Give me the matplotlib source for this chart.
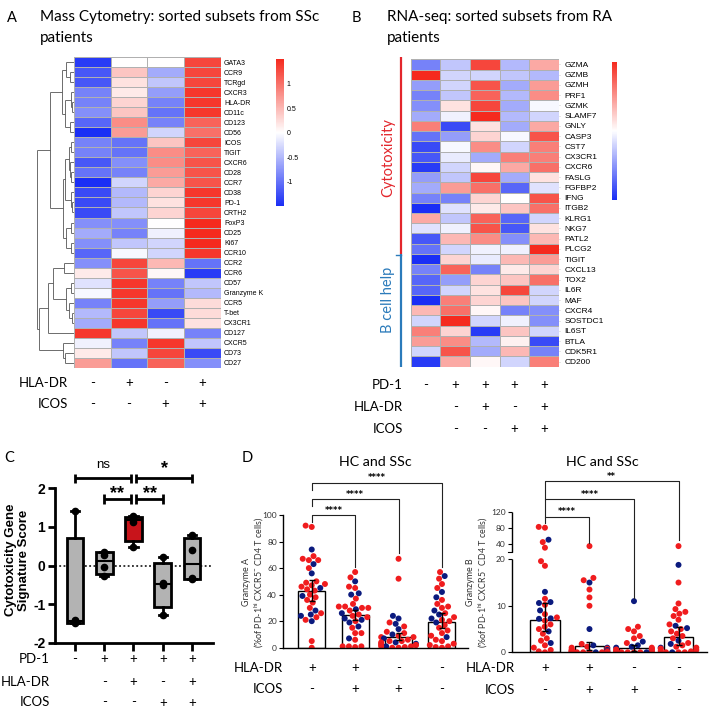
import numpy as np
import pandas as pd
import matplotlib
matplotlib.use("Agg")
import matplotlib.pyplot as plt
import matplotlib.transforms as mtrans
from matplotlib.colors import LinearSegmentedColormap
import seaborn as sns

plt.rcParams['font.family'] = ['Lato', 'DejaVu Sans']
plt.rcParams['mathtext.fontset'] = 'custom'
plt.rcParams['mathtext.rm'] = 'Lato'
plt.rcParams['mathtext.it'] = 'Lato:italic'

# ---------------- DATA ----------------
# Panel A: mass cytometry heatmap (columns: HLA-DR/ICOS -/-, +/-, -/+, +/+)
a_rows = ["GATA3", "CCR9", "TCRgd", "CXCR3", "HLA-DR", "CD11c", "CD123", "CD56",
          "ICOS", "TIGIT", "CXCR6", "CD28", "CCR7", "CD38", "PD-1", "CRTH2",
          "FoxP3", "CD25", "Ki67", "CCR10", "CCR2", "CCR6", "CD57", "Granzyme K",
          "CCR5", "T-bet", "CX3CR1", "CD127", "CXCR5", "CD73", "CD27"]
a_vals = [
    [-1.4, 0.0, 0.0, 1.3], [-1.2, 0.4, -0.6, 1.3], [-1.2, 0.2, -0.4, 1.3],
    [-0.9, 0.15, -0.7, 1.4], [-0.9, 0.3, -0.9, 1.4], [-0.8, 0.4, -1.0, 1.4],
    [-1.1, 0.8, -0.9, 1.1], [-1.5, 0.7, -0.3, 1.0], [-0.9, -1.0, 0.4, 1.3],
    [-0.9, -1.0, 0.8, 1.1], [-1.2, -0.8, 0.8, 1.2], [-1.0, -0.9, 0.7, 1.2],
    [-1.5, -0.3, 0.6, 1.2], [-1.3, -0.5, 0.3, 1.4], [-1.3, -0.5, 0.2, 1.4],
    [-1.3, -0.4, 0.3, 1.3], [-0.8, -0.8, 0.0, 1.5], [-0.6, -0.9, -0.1, 1.5],
    [-0.8, -0.4, -0.3, 1.5], [-1.1, -0.05, -0.3, 1.4], [-0.8, 1.3, 0.5, -1.0],
    [0.15, 1.2, 0.05, -1.4], [-0.2, 1.4, -0.9, -0.4], [-0.05, 1.4, -1.0, -0.5],
    [-0.9, 1.4, -0.7, 0.25], [-0.5, 1.3, -1.3, 0.25], [-0.6, 1.4, -1.0, 0.2],
    [1.4, -0.4, -0.1, -0.9], [-0.1, -0.9, 1.4, -0.4], [0.15, -0.4, 1.3, -1.3],
    [0.7, -1.0, 1.1, -0.8]]
a_hla = ["-", "+", "-", "+"]
a_icos = ["-", "-", "+", "+"]
a_cbar_ticks = [-1, -0.5, 0, 0.5, 1]
# row dendrogram: (merge height, left, right), leaves are row indices
a_tree = (37,
          (24,
           (12, (8, 0, (4, 1, 2)), (9, (3, 3, (2, 4, 5)), (4, 6, 7))),
           (11, (9, (5, (3, 8, 9), (4, 10, (3, 11, 12))), (3, 13, (2, 14, 15))),
            (8, (3, 16, 17), (3, 18, 19)))),
          (35,
           (26, (21, (10, 20, 21), (8, (3, 22, 23), (5, 24, (2, 25, 26)))), 27),
           (11, 28, (9, 29, 30))))

# Panel B: RNA-seq heatmap
b_rows = ["GZMA", "GZMB", "GZMH", "PRF1", "GZMK", "SLAMF7", "GNLY", "CASP3", "CST7",
          "CX3CR1", "CXCR6", "FASLG", "FGFBP2", "IFNG", "ITGB2", "KLRG1", "NKG7",
          "PATL2", "PLCG2", "TIGIT", "CXCL13", "TOX2", "IL6R", "MAF", "CXCR4",
          "SOSTDC1", "IL6ST", "BTLA", "CDK5R1", "CD200"]
b_vals = [
    [-0.9, -0.4, 1.3, -0.5, 0.6], [1.5, -0.3, -0.3, -0.4, -0.5],
    [-0.7, -0.3, 1.2, -0.6, 0.7], [-0.9, -0.4, 1.1, -0.5, 0.8],
    [-0.8, 0.2, 1.3, -0.6, -0.05], [-0.6, -0.1, 1.5, -0.5, -0.3],
    [0.9, -1.3, 0.2, -0.6, 0.6], [-1.0, -0.7, 0.3, -0.05, 1.2],
    [-1.3, -0.05, 0.8, -0.3, 0.9], [-1.2, -0.15, -0.6, 0.9, 0.9],
    [-1.4, -0.3, 0.05, 0.6, 1.0], [-0.7, -0.4, 1.3, -0.6, 0.2],
    [-0.6, 0.7, 1.0, -1.1, -0.2], [-0.9, -0.9, 0.3, 0.0, 1.2],
    [-1.5, -0.2, 0.15, 0.4, 1.0], [0.6, -0.4, 1.1, -1.1, -0.3],
    [-0.2, -0.1, 1.2, -1.2, 0.2], [-1.2, 0.5, 0.8, -0.8, 0.5],
    [-1.0, -0.3, -0.1, -0.1, 1.5], [-1.5, 0.3, -0.15, 0.5, 0.7],
    [-0.9, 1.1, -0.9, 0.15, 0.3], [-1.1, -0.7, 0.3, 0.4, 1.0],
    [-1.1, -0.3, 0.2, 1.3, -0.3], [-1.5, 0.9, 0.3, 0.4, -0.3],
    [0.5, 1.0, 0.05, -0.9, -0.8], [-0.3, 1.5, -0.3, -0.1, -0.8],
    [0.9, 0.3, -1.4, 0.4, -0.3], [0.7, 0.8, -0.5, 0.1, -1.3],
    [-0.3, 1.2, -0.6, 0.5, -0.9], [-1.4, 0.6, 0.05, -0.3, 0.9]]
b_cyto_rows = 19          # GZMA .. PLCG2
b_pd1 = ["-", "+", "+", "+", "+"]
b_hla = ["", "-", "+", "-", "+"]
b_icos = ["", "-", "-", "+", "+"]

# Panel C: cytotoxicity signature score per subset
c_points = [[1.42, -1.40, -1.45, -1.50],
            [0.36, 0.28, -0.03, -0.27],
            [1.27, 1.25, 1.12, 0.48],
            [0.22, -0.45, -0.50, -1.28],
            [0.80, 0.40, -0.32, -0.36]]
c_pd1 = ["-", "+", "+", "+", "+"]
c_hla = ["", "-", "+", "-", "+"]
c_icos = ["", "-", "-", "+", "+"]
c_fill = ["#b3b3b3", "#b3b3b3", "#c8141b", "#b3b3b3", "#b3b3b3"]

# Panel D: Granzyme A (value, cohort: r = SSc, n = HC)
gza = [
    ([92, 91, 74, 69, 67, 66, 66, 63, 60, 56, 50, 49, 48, 47, 46, 45, 44, 43, 40, 39,
      38, 36, 34, 30, 28, 26, 25, 24, 23, 21, 20, 5, 0],
     "rrnrrrrnrnrrrrrnrrrnrrrrnrnnrrnrr"),
    ([57, 53, 50, 46, 45, 41, 40, 37, 33, 31, 31, 30, 30, 29, 28, 26, 25, 24, 23, 22,
      21, 20, 19, 16, 15, 11, 11, 7, 6, 1, 1, 1, 0.5],
     "rrnrrnnrrrrrrnrnrrrnnrnnrrrnrrrrr"),
    ([67, 52, 24, 22, 19, 18, 16, 14, 12, 11, 10, 9, 8, 8, 7, 6, 5, 5, 4, 4, 3, 3, 2,
      2, 2, 1, 1, 1, 0.5, 0, 0],
     "rrnnrnrnrrnrrrnrrrnrrnrrrnrrrrr"),
    ([57, 54, 52, 48, 45, 42, 38, 36, 33, 31, 30, 28, 26, 25, 23, 22, 21, 20, 19, 17,
      15, 13, 11, 9, 8, 6, 5, 3, 2, 1, 0.5, 0],
     "rnrrrnnrrrrnrnrnrrnrrrrrnrrrrrrr"),
]
gza_bar = [42.5, 24.5, 8.3, 19.0]
gza_lo = [35, 21, 5.5, 15]
gza_hi = [51, 28.5, 11.3, 26]
gzb = [
    ([82, 80, 50, 44, 30, 19.6, 18.6, 13, 11.5, 10.8, 10.6, 10.2, 9, 8.2, 7.5, 7.3, 7.2,
      6.8, 6, 5.5, 5, 4.5, 4, 3, 2.5, 2, 1.5, 1, 0.5, 0.2, 0],
     "rrnrrrrnrnnrnrrnnrrrrnrrrnrrrrr"),
    ([34, 16, 15.5, 15, 13.5, 11.8, 10, 5, 1.8, 1.5, 1.2, 1, 1, 0.8, 0.6, 0.5, 0.4, 0.3,
      0.3, 0.2, 0.2, 0.1, 0, 0, 0, 0, 0, 0, 0, 0],
     "rrrnrrrnrnrrnrrnrrrrnrrrrrnrrr"),
    ([11, 5.5, 5, 4.5, 3.5, 3, 2.3, 2, 1.5, 1.2, 1, 1, 0.8, 0.6, 0.5, 0.4, 0.3, 0.2, 0.1,
      0, 0, 0, 0, 0, 0],
     "nrrrrrnrnnrnrrrrrrrrrrnrr"),
    ([34, 18.8, 15, 10.5, 9.3, 8.7, 8.3, 7.8, 7, 6, 5.7, 5.2, 5, 4.5, 4, 3.5, 3, 2.5, 2,
      1.8, 1.5, 1.2, 1, 1, 0.8, 0.5, 0.3, 0.2, 0, 0, 0, 0],
     "rnrrrrrrrrnnrrrrrnrnrrrnrrrrrrnr"),
]
gzb_bar = [7.0, 1.3, 0.9, 3.2]
gzb_lo = [4.5, 0.5, 0.3, 1.6]
gzb_hi = [10.5, 2.3, 1.6, 5.4]
d_hla = ["+", "+", "-", "-"]
d_icos = ["-", "+", "+", "-"]
cohort_names = {"r": "SSc", "n": "HC"}

# ---------------- FIGURE ----------------
W, H = 709, 707
fig = plt.figure(figsize=(W / 100, H / 100), dpi=100)


def axpx(l, t, r, b):
    return fig.add_axes([l / W, 1 - b / H, (r - l) / W, (b - t) / H])


def ftxt(x, y, s, **kw):
    return fig.text(x / W, 1 - y / H, s, **kw)


def sign_row(ax, xs, signs, ypx, label, label_x, fs=9.5):
    tr = mtrans.blended_transform_factory(ax.transData, fig.transFigure)
    for x, s in zip(xs, signs):
        ax.text(x, 1 - ypx / H, s, transform=tr, ha="center", va="center",
                fontsize=fs, clip_on=False)
    ftxt(label_x, ypx, label, ha="right", va="center", fontsize=fs)


cmap = LinearSegmentedColormap.from_list("bwr_ph", ["#1a2ef5", "#ffffff", "#f52a1e"])
hm_font = ["Liberation Sans", "DejaVu Sans"]

# ---- Panel A ----
ftxt(7, 18, "A", fontsize=10.5, va="center")
ftxt(40, 17, "Mass Cytometry: sorted subsets from SSc", fontsize=11, va="center")
ftxt(40, 38, "patients", fontsize=11, va="center")

axA = axpx(74, 57.3, 220.7, 367.7)
A = np.array(a_vals)
meshA = axA.pcolormesh(A, cmap=cmap, vmin=-1.5, vmax=1.5, edgecolors="#b0b0b0", linewidth=0.4)
axA.set_xlim(0, A.shape[1])
axA.set_ylim(A.shape[0], 0)
axA.set_xticks([])
axA.set_yticks(np.arange(len(a_rows)) + 0.5)
axA.set_yticklabels(a_rows, fontsize=5, family=hm_font)
axA.yaxis.tick_right()
axA.tick_params(axis="y", length=0, pad=2.4)
for s in axA.spines.values():
    s.set_visible(False)
sign_row(axA, np.arange(4) + 0.5, a_hla, 383, "HLA-DR", 68)
sign_row(axA, np.arange(4) + 0.5, a_icos, 404, "ICOS", 68)

caxA = axpx(276, 59, 284, 206)
cbA = fig.colorbar(meshA, cax=caxA, ticks=a_cbar_ticks)
cbA.outline.set_visible(False)
cbA.ax.set_yticklabels([f"{t:g}" for t in a_cbar_ticks], fontsize=5, family=hm_font)
cbA.ax.tick_params(length=0, pad=2)

axDen = axpx(30, 57.3, 74, 367.7)
axDen.set_xlim(44, 0)
axDen.set_ylim(A.shape[0], 0)
axDen.axis("off")


def draw_tree(ax, node):
    if isinstance(node, int):
        return node + 0.5, 0
    h, l, r = node
    yl, hl = draw_tree(ax, l)
    yr, hr = draw_tree(ax, r)
    kw = dict(color="#555555", lw=0.6, solid_capstyle="butt")
    ax.plot([hl, h], [yl, yl], **kw)
    ax.plot([hr, h], [yr, yr], **kw)
    ax.plot([h, h], [yl, yr], **kw)
    return (yl + yr) / 2, h


draw_tree(axDen, a_tree)

# ---- Panel B ----
ftxt(352, 18, "B", fontsize=10.5, va="center")
ftxt(387, 17, "RNA-seq: sorted subsets from RA", fontsize=11, va="center")
ftxt(387, 38, "patients", fontsize=11, va="center")

axB = axpx(410.7, 59.3, 559, 366.7)
B = np.array(b_vals)
meshB = axB.pcolormesh(B, cmap=cmap, vmin=-1.5, vmax=1.5, edgecolors="#b0b0b0", linewidth=0.4)
axB.set_xlim(0, B.shape[1])
axB.set_ylim(B.shape[0], 0)
axB.set_xticks([])
axB.set_yticks(np.arange(len(b_rows)) + 0.5)
axB.set_yticklabels(b_rows, fontsize=6, family=hm_font)
axB.yaxis.tick_right()
axB.tick_params(axis="y", length=1, width=0.4, color="#aaaaaa", pad=3)
for s in axB.spines.values():
    s.set_visible(False)
trB = mtrans.blended_transform_factory(axB.transAxes, axB.transData)
axB.plot([-0.0674, -0.0674], [-0.25, b_cyto_rows], color="#e3262c", lw=1.6,
         transform=trB, clip_on=False, solid_capstyle="butt")
axB.plot([-0.0674, -0.0674], [b_cyto_rows, len(b_rows)], color="#2b7bbb", lw=1.6,
         transform=trB, clip_on=False, solid_capstyle="butt")
axB.plot([-0.0674, -0.1], [b_cyto_rows + 0.1, b_cyto_rows + 0.1], color="#2b7bbb", lw=1.0,
         transform=trB, clip_on=False)
ftxt(388, 158, "Cytotoxicity", rotation=90, ha="center", va="center", fontsize=10.5,
     color="#e3262c")
ftxt(388, 300, "B cell help", rotation=90, ha="center", va="center", fontsize=10.5,
     color="#2b7bbb")
sign_row(axB, np.arange(5) + 0.5, b_pd1, 385, "PD-1", 402.7)
sign_row(axB, np.arange(5) + 0.5, b_hla, 407, "HLA-DR", 402.7)
sign_row(axB, np.arange(5) + 0.5, b_icos, 429, "ICOS", 402.7)

caxB = axpx(611.7, 61.7, 617.3, 200)
cbB = fig.colorbar(meshB, cax=caxB)
cbB.outline.set_visible(False)
cbB.set_ticks([])

# ---- Panel C ----
ftxt(4, 458, "C", fontsize=10.5, va="center")
axC = axpx(55, 488.3, 213, 642.7)
cpos = np.arange(1, 6)
stats = []
for pts in c_points:
    q1, med, q3 = np.percentile(pts, [25, 50, 75], method="weibull")
    stats.append(dict(med=med, q1=q1, q3=q3, whislo=min(pts), whishi=max(pts)))
bp = axC.bxp(stats, positions=cpos, widths=0.57, patch_artist=True, showfliers=False,
             capwidths=0.28,
             boxprops=dict(lw=2, edgecolor="black"),
             whiskerprops=dict(lw=2, color="black"),
             capprops=dict(lw=2, color="black"),
             medianprops=dict(lw=1.5, color="black"))
for patch, fc in zip(bp["boxes"], c_fill):
    patch.set_facecolor(fc)
for x, pts in zip(cpos, c_points):
    axC.plot([x] * len(pts), pts, "o", color="black", ms=4.5, zorder=5, clip_on=False)
axC.axhline(0, ls=(0, (1.2, 1.6)), color="black", lw=1.1, zorder=0)
axC.set_xlim(0.316, 5.72)
axC.set_ylim(-2, 2)
axC.set_yticks([-2, -1, 0, 1, 2])
axC.set_yticklabels(["-2", "-1", "0", "1", "2"], fontsize=10, fontweight="bold",
                    family=hm_font)
axC.set_xticks(cpos)
axC.set_xticklabels([])
axC.tick_params(axis="both", width=2, length=5)
axC.tick_params(axis="y", pad=2)
axC.tick_params(axis="x", length=6)
for s in ["top", "right"]:
    axC.spines[s].set_visible(False)
for s in ["left", "bottom"]:
    axC.spines[s].set_linewidth(2)
ftxt(17.5, 560, "Cytotoxicity Gene\nSignature Score", rotation=90, ha="center", va="center",
     fontsize=9.5, fontweight="bold", family=hm_font, linespacing=1.05)


def csig(ax, x1, x2, y, txt, ty, fs, bold=True):
    kw = dict(color="black", lw=2, clip_on=False, solid_capstyle="butt")
    ax.plot([x1, x2], [y, y], **kw)
    for xx in (x1, x2):
        ax.plot([xx, xx], [y - 0.12, y + 0.12], **kw)
    ax.text((x1 + x2) / 2, ty, txt, ha="center", va="center", fontsize=fs,
            fontweight="bold" if bold else "normal", family=hm_font, clip_on=False)


csig(axC, 1, 2.9, 2.26, "ns", 2.6, 9.5, bold=False)
csig(axC, 3.1, 5, 2.26, "*", 2.5, 13)
csig(axC, 2, 2.9, 1.72, "**", 1.86, 13)
csig(axC, 3.1, 4, 1.72, "**", 1.86, 13)
sign_row(axC, cpos, c_pd1, 659.3, "PD-1", 50)
sign_row(axC, cpos, c_hla, 681.7, "HLA-DR", 50)
sign_row(axC, cpos, c_icos, 702.5, "ICOS", 50)

# ---- Panel D ----
ftxt(242, 458, "D", fontsize=10.5, va="center")
red, navy = "#f01c1e", "#0b1a7e"
palette = {"SSc": red, "HC": navy}


def make_df(groups):
    rows = []
    for gi, (vals, coh) in enumerate(groups):
        for v, c in zip(vals, coh):
            rows.append((gi, v, cohort_names[c]))
    return pd.DataFrame(rows, columns=["grp", "val", "coh"])


def d_panel(ax, groups, bars, lo, hi, width):
    xs = np.arange(len(bars))
    ax.bar(xs, bars, width=width, facecolor="white", edgecolor="black", lw=1.0, zorder=1)
    df = make_df(groups)
    sns.swarmplot(data=df, x="grp", y="val", hue="coh", palette=palette, order=[0, 1, 2, 3],
                  size=4.3, ax=ax, legend=False, zorder=2, linewidth=0)
    bars_a = np.array(bars)
    ax.errorbar(xs, bars_a, yerr=[bars_a - np.array(lo), np.array(hi) - bars_a], fmt="none",
                ecolor="black", elinewidth=1.0, capsize=2.5, capthick=1.0, zorder=3)
    ax.set_xlabel("")
    ax.set_ylabel("")
    ax.set_xticks([])
    for s in ["top", "right"]:
        ax.spines[s].set_visible(False)
    ax.spines["bottom"].set_linewidth(1.0)
    ax.spines["left"].set_linewidth(1.0)
    ax.tick_params(axis="y", labelsize=6, labelcolor="#333333", length=3, width=0.8, pad=1.5)


axDL = axpx(283.3, 515, 468, 647.7)
d_panel(axDL, gza, gza_bar, gza_lo, gza_hi, 0.62)
axDL.set_xlim(-0.655, 3.6)
axDL.set_ylim(0, 100)
axDL.set_yticks([0, 20, 40, 60, 80, 100])
axDL.spines["left"].set_bounds(0, 100)
ftxt(254, 582, "Granzyme A\n(%of PD-1$^{\\mathrm{hi}}$ CXCR5$^{-}$ CD4 T cells)", rotation=90,
     ha="center", va="center", fontsize=6.4, color="#333333", multialignment="center",
     linespacing=1.1)
ftxt(375, 461.7, "HC and SSc", ha="center", va="center", fontsize=10.3)

axDR = axpx(512, 511.7, 707, 652.3)
d_panel(axDR, gzb, gzb_bar, gzb_lo, gzb_hi, 0.67)
K_LO, GAP, K_HI = 4.65, 7.6, 0.4


def fwd(v):
    v = np.asarray(v, dtype=float)
    return np.where(v <= 20, v * K_LO, 20 * K_LO + GAP + (v - 20) * K_HI)


def inv(t):
    t = np.asarray(t, dtype=float)
    return np.where(t <= 20 * K_LO, t / K_LO,
                    np.where(t < 20 * K_LO + GAP, 20.0, 20 + (t - 20 * K_LO - GAP) / K_HI))


axDR.set_yscale("function", functions=(fwd, inv))
axDR.set_ylim(0, 120)
axDR.set_xlim(-0.74, 3.64)
axDR.set_yticks([0, 10, 20, 40, 80, 120])
axDR.set_yticklabels(["0", "10", "20", "40", "80", "120"])
axDR.yaxis.set_minor_locator(matplotlib.ticker.NullLocator())
axDR.spines["left"].set_visible(False)
tot = float(fwd(120))
y_lo_top = float(fwd(20)) / tot
y_hi_bot = (20 * K_LO + GAP) / tot
axDR.plot([0, 0], [0, y_lo_top], transform=axDR.transAxes, color="black", lw=1.0,
          clip_on=False, solid_capstyle="butt")
axDR.plot([0, 0], [y_hi_bot, 1], transform=axDR.transAxes, color="black", lw=1.0,
          clip_on=False, solid_capstyle="butt")
axDR.plot([-0.018, 0], [y_hi_bot, y_hi_bot], transform=axDR.transAxes, color="black",
          lw=0.8, clip_on=False)
ftxt(478, 582, "Granzyme B\n(%of PD-1$^{\\mathrm{hi}}$ CXCR5$^{-}$ CD4 T cells)", rotation=90,
     ha="center", va="center", fontsize=6.4, color="#333333", multialignment="center",
     linespacing=1.1)
ftxt(602, 461.7, "HC and SSc", ha="center", va="center", fontsize=10.3)


def dbracket(ax, x1, x2, ytop, yleft, yright, txt, ty):
    tr = mtrans.blended_transform_factory(ax.transData, fig.transFigure)
    f = lambda p: 1 - p / H
    ax.plot([x1, x1, x2, x2], [f(yleft), f(ytop), f(ytop), f(yright)], transform=tr,
            color="#222222", lw=0.8, clip_on=False)
    ax.text((x1 + x2) / 2, f(ty), txt, transform=tr, ha="center", va="center",
            fontsize=6, fontweight="bold", family=["DejaVu Sans"], clip_on=False)


dbracket(axDL, 0, 1, 515, 522, 566.7, "****", 510)
dbracket(axDL, 0, 2, 499.3, 506, 553.3, "****", 494)
dbracket(axDL, 0, 3, 482.7, 490, 566.7, "****", 477.5)
dbracket(axDR, 0, 1, 516.7, 523, 543.3, "****", 511.5)
dbracket(axDR, 0, 2, 499.3, 516.7, 598.3, "****", 494)
dbracket(axDR, 0, 3, 481, 499.3, 540, "**", 476)

sign_row(axDL, np.arange(4), d_hla, 668.3, "HLA-DR", 283)
sign_row(axDL, np.arange(4), d_icos, 689.3, "ICOS", 283)
sign_row(axDR, np.arange(4), d_hla, 668.3, "HLA-DR", 515)
sign_row(axDR, np.arange(4), d_icos, 690, "ICOS", 515)

fig.savefig("out.png", dpi=100)
